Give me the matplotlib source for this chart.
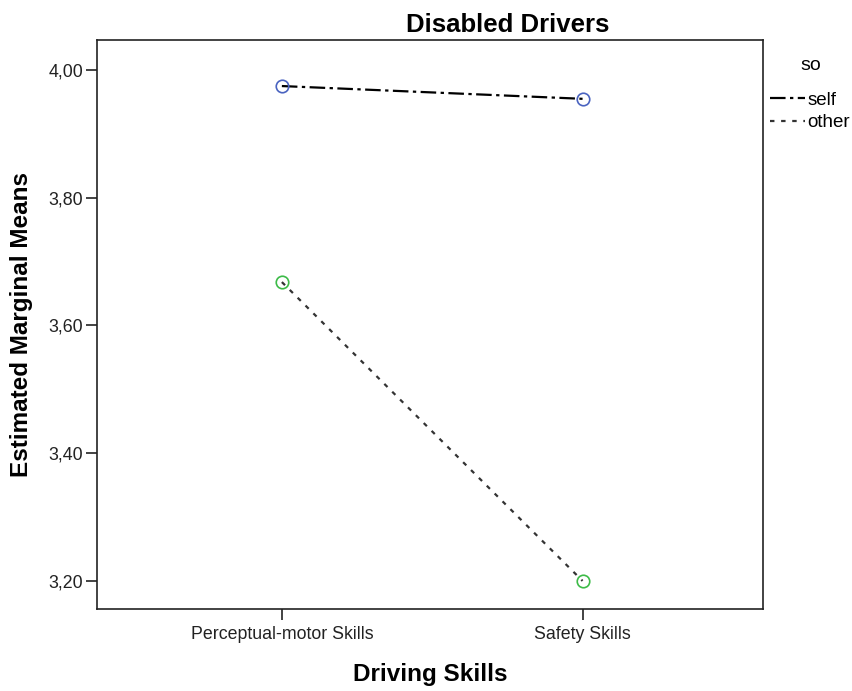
import matplotlib
matplotlib.use("Agg")
from matplotlib import pyplot as plt
from matplotlib.ticker import FuncFormatter

plt.rcParams['font.family'] = ['Liberation Sans', 'DejaVu Sans']

# data
skills = ['Perceptual-motor Skills', 'Safety Skills']
self_means = [3.975, 3.955]
other_means = [3.668, 3.200]
y_ticks = [3.20, 3.40, 3.60, 3.80, 4.00]

fig = plt.figure(figsize=(8.52, 6.91), dpi=100)
ax = fig.add_axes([0.1138, 0.1187, 0.7817, 0.8233])

x = list(range(len(skills)))
l_self, = ax.plot(x, self_means, color='black', lw=1.6, dashes=[7, 2, 1.5, 2],
                  label='self')
l_other, = ax.plot(x, other_means, color='#333333', lw=1.6, dashes=[2, 3],
                   label='other')
ax.plot(x, self_means, 'o', ms=9, mfc='none', mec='#4a63c0', mew=1.2)
ax.plot(x, other_means, 'o', ms=9, mfc='none', mec='#3dbb48', mew=1.2)

ax.set_xlim(-0.615, 1.6)
ax.set_ylim(3.156, 4.047)
ax.set_xticks(x)
ax.set_xticklabels(skills)
ax.set_yticks(y_ticks)
ax.yaxis.set_major_formatter(FuncFormatter(lambda v, p: f'{v:.2f}'.replace('.', ',')))
ax.tick_params(axis='both', direction='out', length=8, width=1.2, labelsize=12.8,
               colors='#222222', pad=2)
ax.tick_params(axis='x', pad=4)
for s in ax.spines.values():
    s.set_linewidth(1.2)
    s.set_color('#222222')

ax.set_xlabel('Driving Skills', fontsize=17.5, fontweight='bold', labelpad=15)
ax.set_ylabel('Estimated Marginal Means', fontsize=17.5, fontweight='bold', labelpad=11)
fig.text(508 / 852, 1 - 25 / 691, 'Disabled Drivers', fontsize=18.5, fontweight='bold',
         ha='center', va='center')

# legend sits outside the axes, title drawn separately so the gap matches
fig.text(811 / 852, 1 - 65 / 691, 'so', fontsize=14, ha='center', va='center')
leg = fig.legend(handles=[l_self, l_other], loc='upper left',
                 bbox_to_anchor=(0.9035, 1 - 91.5 / 691), frameon=False, fontsize=13.5,
                 handlelength=1.9, handletextpad=0.1,
                 labelspacing=0.3, borderaxespad=0, borderpad=0)

fig.savefig('out.png', dpi=100)
